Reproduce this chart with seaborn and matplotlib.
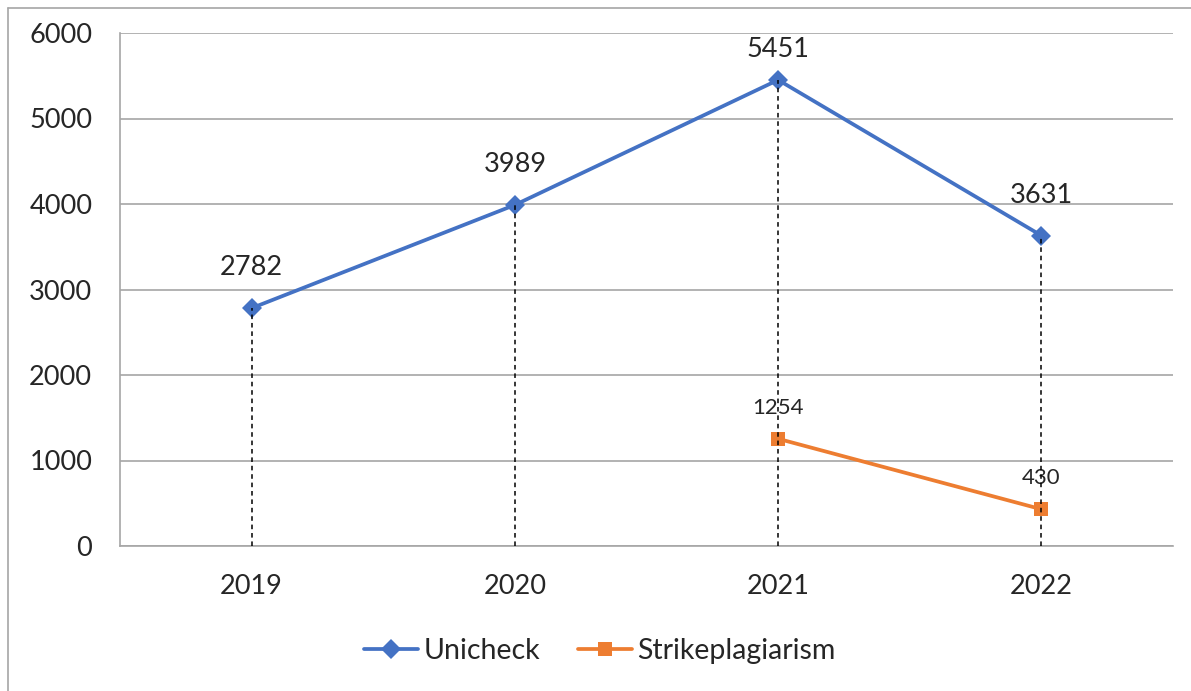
import pandas as pd
import numpy as np
import matplotlib
matplotlib.use("Agg")
import matplotlib.pyplot as plt
from matplotlib.lines import Line2D
import seaborn as sns

years = ["2019", "2020", "2021", "2022"]
unicheck = [2782, 3989, 5451, 3631]
strike = [np.nan, np.nan, 1254, 430]

BLUE = "#4472C4"
ORANGE = "#ED7D31"
GRID = "#A6A6A6"

sns.set_style("white")
plt.rcParams["font.family"] = ["Lato", "DejaVu Sans"]

df = pd.DataFrame({
    "year": years * 2,
    "value": unicheck + strike,
    "series": ["Unicheck"] * 4 + ["Strikeplagiarism"] * 4,
}).dropna()

fig = plt.figure(figsize=(11.91, 6.91), dpi=100)
ax = fig.add_axes([120 / 1191, 1 - 546 / 691, 1053 / 1191, 513 / 691])

# drop lines from the highest point of each category down to the axis
tops = np.nanmax(np.vstack([unicheck, strike]), axis=0)
ax.vlines(years, 0, tops, colors="black", linestyles=(0, (3, 2.5)),
          linewidth=1.1, zorder=4)

sns.lineplot(data=df, x="year", y="value", hue="series", style="series",
             palette={"Unicheck": BLUE, "Strikeplagiarism": ORANGE},
             markers={"Unicheck": "D", "Strikeplagiarism": "s"},
             dashes=False, markersize=10, markeredgewidth=0,
             linewidth=2.7, sort=False, legend=False, ax=ax, zorder=3)

# labels above points; the top one is squeezed to stay inside the plot area
for i, v in enumerate(unicheck):
    off = 13 if v > 5000 else 20
    ax.annotate(f"{v}", (i, v), textcoords="offset points", xytext=(0, off),
                ha="center", va="bottom", fontsize=19.5)
for i, v in enumerate(strike):
    if not np.isnan(v):
        ax.annotate(f"{int(v)}", (i, v), textcoords="offset points",
                    xytext=(0, 15), ha="center", va="bottom", fontsize=16)

ax.set_xlim(-0.5, 3.5)
ax.set_ylim(0, 6000)
ax.set_yticks(range(0, 6001, 1000))
ax.yaxis.grid(True, color=GRID, linewidth=1.2)
ax.set_axisbelow(True)
ax.set_xlabel("")
ax.set_ylabel("")
for side in ["top", "right"]:
    ax.spines[side].set_visible(False)
for side in ["left", "bottom"]:
    ax.spines[side].set_color(GRID)
    ax.spines[side].set_linewidth(1.2)
ax.tick_params(axis="y", length=7, width=1.2, color=GRID, pad=13, labelsize=19.5)
ax.tick_params(axis="x", length=0, pad=20, labelsize=19.5)

handles = [
    Line2D([], [], color=BLUE, marker="D", markersize=10, markeredgewidth=0, linewidth=2.7),
    Line2D([], [], color=ORANGE, marker="s", markersize=10, markeredgewidth=0, linewidth=2.7),
]
fig.legend(handles, ["Unicheck", "Strikeplagiarism"], loc="center",
           bbox_to_anchor=(600 / 1191, 1 - 651 / 691), ncol=2, frameon=False,
           fontsize=20.5, handlelength=1.9, handletextpad=0.2, columnspacing=1.3)

# chart area border (clipped on right and bottom like the reference)
fig.add_artist(Line2D([8 / 1191, 8 / 1191], [0, 1 - 8 / 691], color=GRID,
                      linewidth=1.2, transform=fig.transFigure))
fig.add_artist(Line2D([8 / 1191, 1], [1 - 8 / 691, 1 - 8 / 691], color=GRID,
                      linewidth=1.2, transform=fig.transFigure))

fig.savefig("out.png", dpi=100)
